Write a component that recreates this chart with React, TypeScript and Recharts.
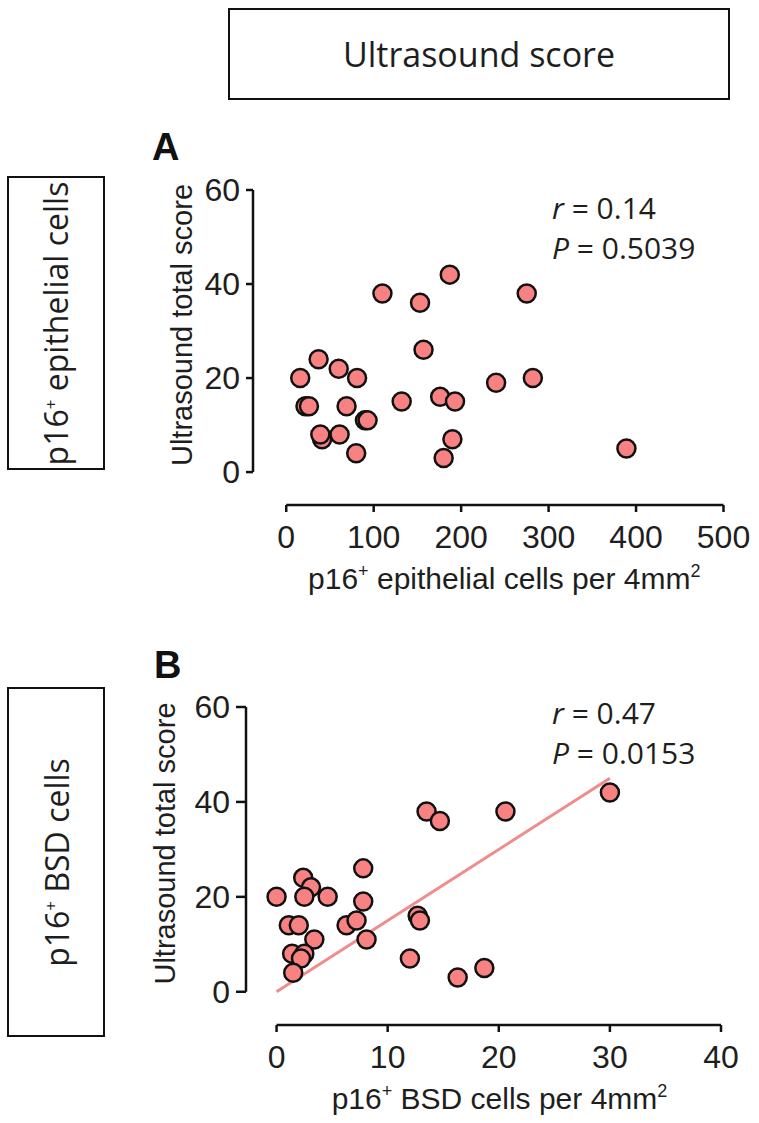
import React from "react";
import { ScatterChart, Scatter, XAxis, YAxis, ReferenceLine } from "recharts";

// panel A: p16+ epithelial cells vs ultrasound total score
const epiCells = [187, 110, 153, 157, 37, 60, 16, 81, 240, 22, 26, 69, 132, 176, 193, 90, 93, 41, 39, 61, 80, 190, 180, 275, 282, 389];
const epiScore = [42, 38, 36, 26, 24, 22, 20, 20, 19, 14, 14, 14, 15, 16, 15, 11, 11, 7, 8, 8, 4, 7, 3, 38, 20, 5];

// panel B: p16+ BSD cells vs ultrasound total score
const bsdCells = [13.5, 14.7, 7.8, 2.4, 3.1, 0, 2.5, 4.6, 7.8, 1.1, 2.0, 6.3, 7.2, 12.7, 12.9, 3.4, 8.1, 1.4, 2.5, 2.2, 1.5, 12, 16.3, 18.7, 20.6, 30];
const bsdScore = [38, 36, 26, 24, 22, 20, 20, 20, 19, 14, 14, 14, 15, 16, 15, 11, 11, 8, 8, 7, 4, 7, 3, 5, 38, 42];

// regression line shown in panel B
const fitCells = [0, 30];
const fitScore = [0, 45];

const epiTicks = [0, 100, 200, 300, 400, 500];
const bsdTicks = [0, 10, 20, 30, 40];
const scoreTicks = [0, 20, 40, 60];

const statsA = { r: "0.14", p: "0.5039" };
const statsB = { r: "0.47", p: "0.0153" };

const INK = "#1e1e1e";
const POINT_FILL = "#f88282";
const LINE_COLOR = "#f08c8c";
const AXIS_FONT = "'Liberation Sans', Arial, sans-serif";
const BOX_FONT = "'Open Sans', sans-serif";

const toPoints = (xs: number[], ys: number[]) => xs.map((x, i) => ({ x, y: ys[i] }));

const Dot = (p: any) => (
  <circle cx={p.cx} cy={p.cy} r={9} fill={POINT_FILL} stroke="#111" strokeWidth={2.5} />
);

const xTitle = (label: string, dx: number) => (props: any) => {
  const vb = props.viewBox;
  return (
    <text
      x={vb.x + vb.width / 2 + dx}
      y={vb.y + 84}
      textAnchor="middle"
      fontFamily={AXIS_FONT}
      fontSize={30}
      fill={INK}
    >
      p16
      <tspan dy={-12} fontSize={18}>+</tspan>
      <tspan dy={12}>{` ${label} cells per 4mm`}</tspan>
      <tspan dy={-12} fontSize={18}>2</tspan>
    </text>
  );
};

const yTitle = (offset: number) => (props: any) => {
  const vb = props.viewBox;
  const cx = vb.x + vb.width - offset;
  const cy = vb.y + (vb.height - 33) / 2 - 6;
  return (
    <text
      x={cx}
      y={cy}
      dy="0.35em"
      textAnchor="middle"
      transform={`rotate(-90, ${cx}, ${cy})`}
      fontFamily={AXIS_FONT}
      fontSize={29}
      fill={INK}
    >
      Ultrasound total score
    </text>
  );
};

type PanelProps = {
  top: number;
  height: number;
  margin: { top: number; right: number; bottom: number; left: number };
  xMin: number;
  xTicks: number[];
  points: { x: number; y: number }[];
  fit?: { x: number; y: number }[];
  label: string;
  yTickSize: number;
  yTitleOffset: number;
};

function Panel({ top, height, margin, xMin, xTicks, points, fit, label, yTickSize, yTitleOffset }: PanelProps) {
  const xMax = xTicks[xTicks.length - 1];
  const yMin = -7;
  const tick = { fontFamily: AXIS_FONT, fontSize: 32, fill: INK };
  return (
    <div style={{ position: "absolute", left: 0, top }}>
      <ScatterChart width={759} height={height} margin={margin}>
        <XAxis
          type="number"
          dataKey="x"
          domain={[xMin, xMax]}
          ticks={xTicks}
          axisLine={false}
          tickLine={{ stroke: "#111", strokeWidth: 2.5 }}
          tickSize={7}
          tickMargin={13}
          tick={tick}
          height={80}
          label={{ content: xTitle(label, 16) }}
        />
        <YAxis
          type="number"
          dataKey="y"
          domain={[yMin, 60]}
          ticks={scoreTicks}
          axisLine={false}
          tickLine={{ stroke: "#111", strokeWidth: 2.5 }}
          tickSize={yTickSize}
          tickMargin={6}
          tick={tick}
          width={90}
          label={{ content: yTitle(yTitleOffset) }}
        />
        <ReferenceLine
          segment={[{ x: xTicks[0], y: yMin }, { x: xMax, y: yMin }]}
          stroke="#111"
          strokeWidth={2.5}
          ifOverflow="visible"
        />
        <ReferenceLine
          segment={[{ x: xMin, y: scoreTicks[0] }, { x: xMin, y: 60 }]}
          stroke="#111"
          strokeWidth={2.5}
          ifOverflow="visible"
        />
        {fit && (
          <Scatter
            data={fit}
            line={{ stroke: LINE_COLOR, strokeWidth: 3 }}
            shape={() => <g />}
            isAnimationActive={false}
          />
        )}
        <Scatter data={points} shape={Dot} isAnimationActive={false} />
      </ScatterChart>
    </div>
  );
}

function Stats({ top, r, p }: { top: number; r: string; p: string }) {
  const line: React.CSSProperties = {
    position: "absolute",
    left: 552,
    fontFamily: BOX_FONT,
    fontSize: 30,
    lineHeight: "40px",
    color: INK,
    whiteSpace: "nowrap",
  };
  return (
    <>
      <div style={{ ...line, top }}>
        <i>r</i> = {r}
      </div>
      <div style={{ ...line, top: top + 40 }}>
        <i>P</i> = {p}
      </div>
    </>
  );
}

function SideBox({ top, height, label }: { top: number; height: number; label: string }) {
  return (
    <div
      style={{
        position: "absolute",
        left: 7,
        top,
        width: 98,
        height,
        boxSizing: "border-box",
        border: "2.5px solid #111",
        display: "flex",
        alignItems: "center",
        justifyContent: "center",
      }}
    >
      <span
        style={{
          transform: "rotate(-90deg)",
          whiteSpace: "nowrap",
          fontFamily: BOX_FONT,
          fontSize: 32,
          color: INK,
        }}
      >
        p16<sup style={{ fontSize: 17 }}>+</sup> {label}
      </span>
    </div>
  );
}

const letterStyle: React.CSSProperties = {
  position: "absolute",
  fontFamily: AXIS_FONT,
  fontWeight: "bold",
  fontSize: 38,
  lineHeight: "38px",
  color: "#111",
};

export default function App() {
  return (
    <div style={{ position: "absolute", left: 0, top: 0, width: 759, height: 1123, background: "#fff", overflow: "hidden" }}>
      <div
        style={{
          position: "absolute",
          left: 228,
          top: 8,
          width: 502,
          height: 92,
          boxSizing: "border-box",
          border: "2.5px solid #111",
          display: "flex",
          alignItems: "center",
          justifyContent: "center",
          fontFamily: BOX_FONT,
          fontSize: 34,
          color: INK,
        }}
      >
        Ultrasound score
      </div>

      <SideBox top={176} height={294} label="epithelial cells" />
      <SideBox top={687} height={350} label="BSD cells" />

      <div style={{ ...letterStyle, left: 152, top: 128 }}>A</div>
      <div style={{ ...letterStyle, left: 154, top: 646 }}>B</div>

      <Panel
        top={0}
        height={620}
        margin={{ top: 190, right: 35.5, bottom: 35, left: 163 }}
        xMin={-38}
        xTicks={epiTicks}
        points={toPoints(epiCells, epiScore)}
        label="epithelial"
        yTickSize={7}
        yTitleOffset={71}
      />
      <Panel
        top={620}
        height={503}
        margin={{ top: 87, right: 38, bottom: 18, left: 156 }}
        xMin={-2.75}
        xTicks={bsdTicks}
        points={toPoints(bsdCells, bsdScore)}
        fit={toPoints(fitCells, fitScore)}
        label="BSD"
        yTickSize={10}
        yTitleOffset={81}
      />

      <Stats top={188} r={statsA.r} p={statsA.p} />
      <Stats top={693} r={statsB.r} p={statsB.p} />
    </div>
  );
}
